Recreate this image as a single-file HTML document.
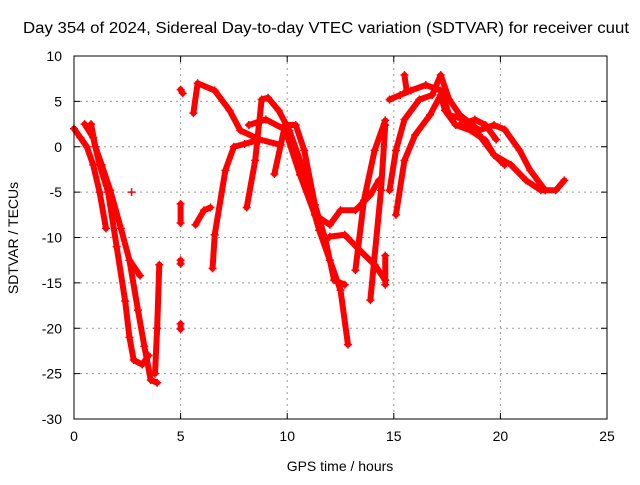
<!DOCTYPE html>
<html><head><meta charset="utf-8"><style>
body{margin:0;background:#fff}
svg text{font-family:"Liberation Sans",sans-serif;font-size:14px;fill:#000}
</style></head><body>
<svg id="chart" width="640" height="480" viewBox="0 0 640 480" xmlns="http://www.w3.org/2000/svg">
<rect width="640" height="480" fill="#fff"/>
<text x="326" y="33" text-anchor="middle" style="font-size:15.5px" textLength="606" lengthAdjust="spacingAndGlyphs">Day 354 of 2024, Sidereal Day-to-day VTEC variation (SDTVAR) for receiver cuut</text>
<g id="grid"></g>
<g id="axes"></g>
<g id="series"></g>
<rect x="74" y="56" width="533" height="363" fill="none" stroke="#000" stroke-width="1"/>
<text x="340" y="471" text-anchor="middle">GPS time / hours</text>
<text transform="translate(18,238) rotate(-90)" text-anchor="middle">SDTVAR / TECUs</text>
</svg>
<script>
const xTicks=[0,5,10,15,20,25];
const yTicks=[-30,-25,-20,-15,-10,-5,0,5,10];
const track1=[[0,2],[0.3,1],[0.6,0],[0.9,-2],[1.2,-5],[1.5,-9]];
const track2=[[0.5,2.5],[0.9,1],[1.2,-2],[1.6,-5],[2.0,-11],[2.4,-17],[2.6,-21],[2.8,-23.5],[3.2,-24],[3.5,-23]];
const track3=[[0.8,2.5],[1.0,0],[1.3,-2],[1.7,-4.8],[2.2,-9],[2.6,-12.5],[3.1,-14.2]];
const track4=[[2.6,-12.5],[3.0,-18],[3.3,-22],[3.6,-25.7],[3.9,-26]];
const track5=[[3.8,-25],[3.9,-20],[4.0,-13]];
const track6=[[2.7,-5]];
const track7a=[[5,6.3],[5.1,5.9]];
const track7b=[[5,-6.3],[5,-8.4]];
const track7c=[[5,-12.5],[5,-12.9]];
const track7d=[[5,-19.5],[5,-20.1]];
const track8=[[5.6,3.7],[5.8,7],[6.6,6.2],[7.3,4],[7.8,1.8],[8.7,0.8],[9.7,0.2]];
const track9=[[5.7,-8.6],[6.1,-7],[6.4,-6.7]];
const track10=[[6.5,-13.4],[6.6,-9.7],[7.1,-2.6],[7.5,0],[8,0.3],[8.7,0.8]];
const track11=[[8.1,-6.7],[8.5,-1.5],[8.8,5.2],[9.1,5.4],[9.6,4],[10.1,1.8],[10.6,-1.5],[11.1,-5.9],[11.5,-9.2],[12,-12.5],[12.5,-15.8],[12.85,-21.8]];
const track12=[[9.4,-3],[9.9,2.4],[10.4,2.4],[10.8,-0.4],[11.3,-6.4],[11.8,-10.3],[12.2,-14.7],[12.7,-15.2]];
const track13=[[8.2,2.4],[9,3],[9.9,1.9],[10.6,-3.1],[11.3,-7.5],[12,-8.6],[12.5,-7],[13.2,-7],[13.9,-5.3],[14.3,-3.7]];
const track14=[[12,-9.9],[12.7,-9.7],[13.4,-11.4],[14.1,-13],[14.6,-14.7]];
const track15=[[13.2,-13.6],[13.6,-5.9],[14.1,-0.4],[14.6,2.9]];
const track16=[[13.9,-16.9],[14.4,-4.8],[14.6,2.4]];
const track17=[[14.6,-15.2],[14.6,-12]];
const track18=[[15.1,-7.5],[15.5,-1.5],[16,1.3],[16.7,3.5],[17.2,5.7],[17.4,4],[17.9,2.4],[18.6,1.8],[19.3,0.7],[19.7,-0.9],[20.5,-2],[21.2,-3.7],[21.9,-4.8],[22.6,-4.8],[23,-3.7]];
const track19=[[14.8,-4.8],[15.1,-0.4],[15.5,3],[16.2,5.2],[16.8,5.7],[17.2,7.9],[17.6,5.2],[18.1,3.5],[19,1.8],[19.7,2.4],[20.2,1.9],[20.9,-0.4],[21.4,-2.6],[22.1,-4.8]];
const track20=[[14.8,5.2],[15.3,5.7],[15.8,6.2],[16.5,6.8],[17.2,6.2],[17.6,3.5],[18.3,3],[19,1.3],[19.7,-0.9],[20.2,-2]];
const track21=[[15.5,7.9],[15.6,6.2]];
const track22=[[18.1,2.4],[18.8,3],[19.3,2.4],[19.8,0.8]];
const tracks=[track1,track2,track3,track4,track5,track6,track7a,track7b,track7c,track7d,track8,track9,track10,track11,track12,track13,track14,track15,track16,track17,track18,track19,track20,track21,track22];

const X0=74,X1=607,Y0=419,Y1=56;
const xs=v=>X0+(v-0)/25*(X1-X0);
const ys=v=>Y0-(v+30)/40*(Y0-Y1);
const NS="http://www.w3.org/2000/svg";
const grid=document.getElementById('grid'),axes=document.getElementById('axes'),ser=document.getElementById('series');
function mk(tag,attrs,parent){const e=document.createElementNS(NS,tag);for(const k in attrs)e.setAttribute(k,attrs[k]);parent.appendChild(e);return e;}
xTicks.forEach(t=>{
  const x=xs(t);
  if(t>0&&t<25){const g=mk('line',{x1:x,x2:x,y1:Y1,y2:Y0,stroke:'#999','stroke-dasharray':'2,4'},grid);
  
  }
  const tk=mk('path',{d:`M${x},${Y0}v-6M${x},${Y1}v6`,stroke:'#000'},axes);
  
  
  const l=mk('text',{x:x,y:Y0+22,'text-anchor':'middle'},axes);l.textContent=t;
  
  
});
yTicks.forEach(t=>{
  const y=ys(t);
  if(t>-30&&t<10){const g=mk('line',{x1:X0,x2:X1,y1:y,y2:y,stroke:'#999','stroke-dasharray':'2,4'},grid);
  
  }
  const tk=mk('path',{d:`M${X0},${y}h6M${X1},${y}h-6`,stroke:'#000'},axes);
  
  
  const l=mk('text',{x:X0-12,y:y+5,'text-anchor':'end'},axes);l.textContent=t;
  
  
});
tracks.forEach(tr=>{
  const pts=tr.map(p=>xs(p[0])+','+ys(p[1])).join(' ');
  if(tr.length>1){const pl=mk('polyline',{points:pts,fill:'none',stroke:'#f00','stroke-width':6,'stroke-linejoin':'round','stroke-linecap':'round'},ser);
  
  }
  tr.forEach(p=>{const x=xs(p[0]),y=ys(p[1]);
    const m=mk('path',{d:`M${x-4},${y}h8M${x},${y-4}v8`,stroke:'#f00','stroke-width':1.5},ser);
    
    });
});
</script>
</body></html>
